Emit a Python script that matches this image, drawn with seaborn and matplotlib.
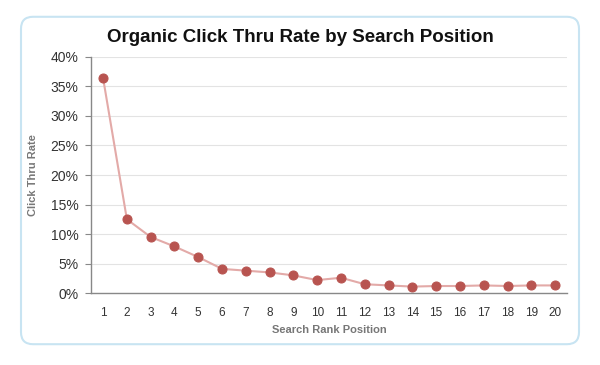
import matplotlib
matplotlib.use("Agg")
import matplotlib.pyplot as plt
import seaborn as sns
import pandas as pd
from matplotlib.patches import FancyBboxPatch
from matplotlib.ticker import FixedLocator

positions = list(range(1, 21))
ctr = [36.4, 12.5, 9.5, 7.9, 6.1, 4.1, 3.8, 3.5, 3.0, 2.2, 2.6, 1.5, 1.3, 1.1, 1.2, 1.2, 1.3, 1.2, 1.3, 1.3]
y_ticks = [0, 5, 10, 15, 20, 25, 30, 35, 40]
y_labels = [f"{v}%" for v in y_ticks]

df = pd.DataFrame({"pos": positions, "ctr": ctr})

sns.set_theme(style="white")
plt.rcParams["font.family"] = ["Liberation Sans", "DejaVu Sans"]

fig = plt.figure(figsize=(6, 3.65), dpi=100)
fig.patch.set_facecolor("white")
box = FancyBboxPatch((0.035, 0.057), 0.93, 0.897, boxstyle="round,pad=0,rounding_size=0.02",
                     transform=fig.transFigure, facecolor="white", edgecolor="#c8e4f2",
                     linewidth=1.5, mutation_aspect=6/3.65, zorder=-10)
fig.patches.append(box)

ax = fig.add_axes([0.152, 0.197, 0.793, 0.647])
ax.set_zorder(5)
ax.set_facecolor("none")
sns.lineplot(data=df, x="pos", y="ctr", ax=ax, color="#e3aaa8", linewidth=1.5,
             marker="o", markersize=6.5, markerfacecolor="#b85450", markeredgecolor="#b85450")

ax.set_xlim(0.5, 20.5)
ax.set_ylim(0, 40)
ax.set_yticks(y_ticks)
ax.set_yticklabels(y_labels, fontsize=10, color="#333333")
ax.set_xticks(positions)
ax.set_xticklabels([str(p) for p in positions], fontsize=8.5, color="#333333")
ax.tick_params(axis="x", length=0, pad=10)
ax.xaxis.set_minor_locator(FixedLocator([p + 0.5 for p in range(0, 21)]))
ax.tick_params(axis="x", which="minor", length=3, direction="in", color="#888888", width=0.8)
ax.tick_params(axis="y", length=4, direction="out", color="#888888", width=0.8, pad=5, left=True)
ax.grid(axis="y", color="#e3e3e3", linewidth=0.8)
ax.set_axisbelow(True)
for s in ["top", "right"]:
    ax.spines[s].set_visible(False)
for s in ["left", "bottom"]:
    ax.spines[s].set_color("#888888")
    ax.spines[s].set_linewidth(1.0)

ax.set_xlabel("Search Rank Position", fontsize=8, fontweight="bold", color="#777777", labelpad=4)
ax.set_ylabel("Click Thru Rate", fontsize=8, fontweight="bold", color="#777777", labelpad=9)
fig.text(0.5, 0.898, "Organic Click Thru Rate by Search Position", ha="center", va="center",
         fontsize=13.5, fontweight="bold", color="#111111")

fig.savefig("out.png", dpi=100, facecolor="white")
